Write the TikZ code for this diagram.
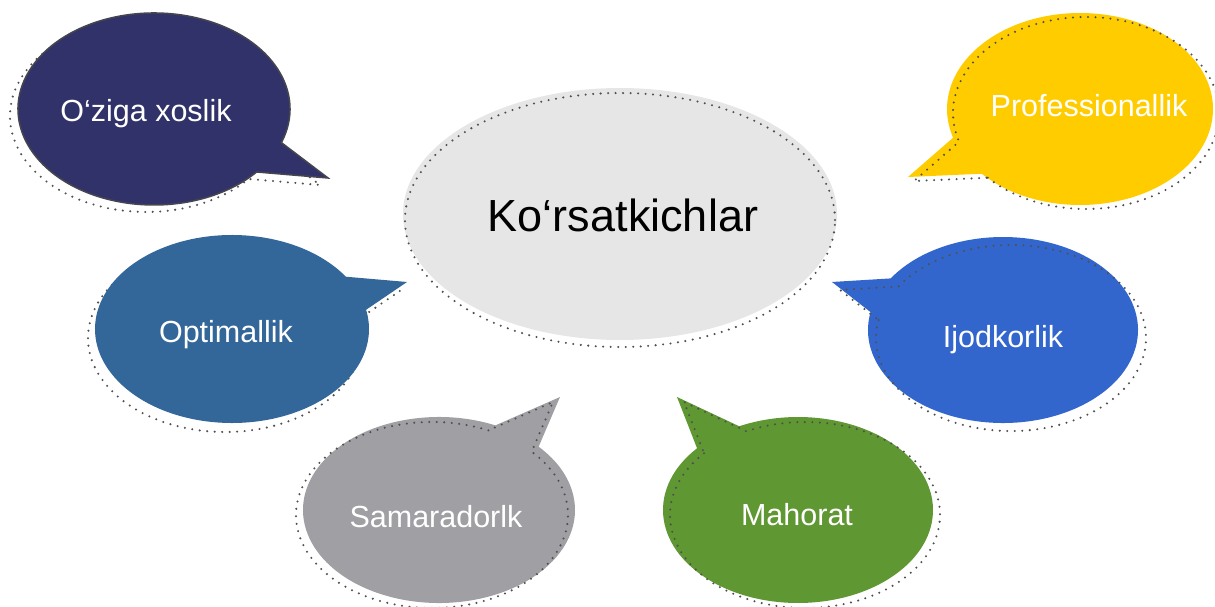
\documentclass[tikz,border=0pt]{standalone}
\usepackage{fontspec}
\setmainfont{Liberation Sans}
\definecolor{cnavy}{HTML}{32326A}
\definecolor{cnavyedge}{HTML}{45454F}
\definecolor{cyellow}{HTML}{FFCC00}
\definecolor{csteel}{HTML}{336699}
\definecolor{cblue}{HTML}{3366CC}
\definecolor{cgrey}{HTML}{A0A0A4}
\definecolor{cgreen}{HTML}{5F9732}
\definecolor{ccenter}{HTML}{E6E6E6}
\definecolor{cdots}{HTML}{505050}
\newcommand\bubpath[7]{(#1pt,#2pt) ++(#5:#3pt and #4pt) arc[start angle=#5,end angle=#6,x radius=#3pt,y radius=#4pt] -- (#7) -- cycle}
\tikzset{
  dotline/.style={draw=cdots, line width=2.3pt, line cap=round, dash pattern=on 0pt off 7.5pt},
  lbl/.style={text=white, font=\fontsize{30.5}{36}\selectfont, anchor=base, inner sep=0pt},
  mainlbl/.style={text=black, font=\fontsize{45}{54}\selectfont, anchor=base, inner sep=0pt}
}
\begin{document}
\begin{tikzpicture}[x=1pt,y=1pt]
\useasboundingbox (0,0) rectangle (1215,606);
\clip (0,0) rectangle (1215,606);
% centre
\fill[ccenter] (620,392) ellipse[x radius=217pt, y radius=126pt];
\draw[dotline] (620,386) ellipse[x radius=215pt, y radius=127pt];
% O'ziga xoslik
\draw[dotline,xshift=-8pt,yshift=-7pt] \bubpath{154}{497}{136}{96}{-20.5}{319}{328,428};
\filldraw[fill=cnavy,draw=cnavyedge,line width=1.5pt,line join=miter] \bubpath{154}{497}{136}{96}{-20.5}{319}{328,428};
% Professionallik
\fill[cyellow] \bubpath{1080}{497}{133}{96}{222.4}{557.4}{908,429};
\draw[dotline,xshift=6pt,yshift=-4pt] \bubpath{1080}{497}{133}{96}{222.4}{557.4}{908,429};
% Optimallik
\draw[dotline,xshift=-7pt,yshift=-9pt] \bubpath{232}{277}{137}{94}{33.8}{371.8}{407,324};
\fill[csteel] \bubpath{232}{277}{137}{94}{33.8}{371.8}{407,324};
% Ijodkorlik
\fill[cblue] \bubpath{1003}{276}{135}{93}{168.9}{506.3}{832,324};
\draw[dotline,xshift=8pt,yshift=-8pt] \bubpath{1003}{276}{135}{93}{168.9}{506.3}{832,324};
% Samaradorlk
\fill[cgrey] \bubpath{439}{96}{136}{93}{65.5}{402.9}{560,209};
\draw[dotline,xshift=-7pt,yshift=-5pt] \bubpath{439}{96}{136}{93}{65.5}{402.9}{560,209};
% Mahorat
\fill[cgreen] \bubpath{798}{96}{135}{93}{138.4}{475.8}{677,209};
\draw[dotline,xshift=7pt,yshift=-5pt] \bubpath{798}{96}{135}{93}{138.4}{475.8}{677,209};
% labels
\node[mainlbl] (main) at (623,374) {Ko‘rsatkichlar};
\node[lbl] (oziga) at (146,484) {O‘ziga xoslik};
\node[lbl] (prof) at (1089,489) {Professionallik};
\node[lbl] (optim) at (226,264) {Optimallik};
\node[lbl] (ijod) at (1003,259) {Ijodkorlik};
\node[lbl] (samar) at (436,79) {Samaradorlk};
\node[lbl] (mahor) at (797,81) {Mahorat};
\end{tikzpicture}
\end{document}
